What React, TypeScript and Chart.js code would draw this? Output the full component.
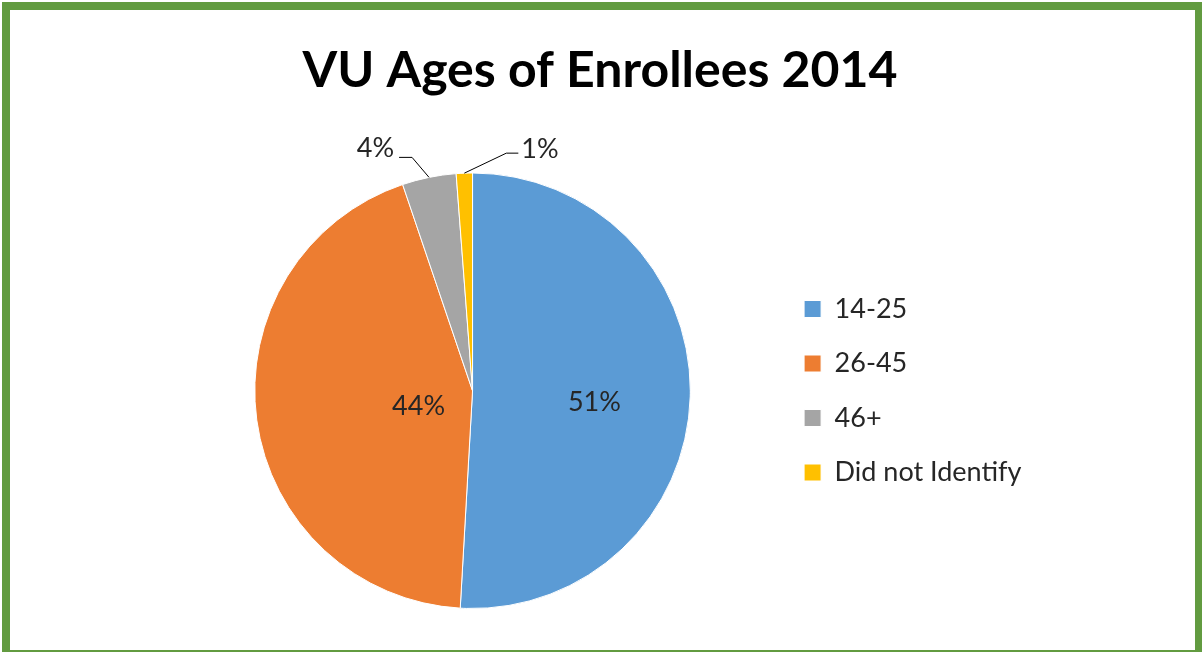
import { useEffect, useRef } from "react";
import { Chart, registerables } from "chart.js";

Chart.register(...registerables);

const titleText = "VU Ages of Enrollees 2014";
const categories = ["14-25", "26-45", "46+", "Did not Identify"];
const shares = [50.9, 43.9, 4.0, 1.2];
const sliceColors = ["#5B9BD5", "#ED7D31", "#A5A5A5", "#FFC000"];

const FONT = "Lato, 'Open Sans', sans-serif";
const TEXT_COLOR = "#262626";

const sliceLabelPlugin = {
  id: "sliceLabels",
  afterDatasetsDraw(chart: any) {
    const ctx = chart.ctx as CanvasRenderingContext2D;
    const meta = chart.getDatasetMeta(0);
    const data = chart.data.datasets[0].data as number[];
    const total = data.reduce((a, b) => a + b, 0);
    ctx.save();
    ctx.font = `27px ${FONT}`;
    ctx.fillStyle = TEXT_COLOR;
    ctx.strokeStyle = "#000000";
    ctx.lineWidth = 1;
    ctx.textBaseline = "middle";
    meta.data.forEach((arc: any, i: number) => {
      const { x, y, startAngle, endAngle, outerRadius } = arc.getProps(
        ["x", "y", "startAngle", "endAngle", "outerRadius"],
        true
      );
      const mid = (startAngle + endAngle) / 2;
      const frac = data[i] / total;
      const text = Math.round(frac * 100) + "%";
      if (frac > 0.1) {
        const f = i === 0 ? 0.56 : 0.25;
        ctx.textAlign = "center";
        ctx.fillText(
          text,
          x + Math.cos(mid) * outerRadius * f,
          y + Math.sin(mid) * outerRadius * f + 8
        );
      } else {
        const px = x + Math.cos(mid) * outerRadius;
        const py = y + Math.sin(mid) * outerRadius;
        const toLeft = i === 2;
        const ex = px + (toLeft ? -17 : 42);
        const ey = py - 20;
        const hx = ex + (toLeft ? -13 : 12);
        ctx.beginPath();
        ctx.moveTo(px, py);
        ctx.lineTo(ex, ey);
        ctx.lineTo(hx, ey);
        ctx.stroke();
        ctx.textAlign = toLeft ? "right" : "left";
        ctx.fillText(text, hx + (toLeft ? -5 : 3), ey - (toLeft ? 9 : 4));
      }
    });
    ctx.restore();
  },
};

export default function App() {
  const canvasRef = useRef<HTMLCanvasElement | null>(null);

  useEffect(() => {
    if (!canvasRef.current) return;
    const chart = new Chart(canvasRef.current, {
      type: "pie",
      data: {
        labels: categories,
        datasets: [
          {
            data: shares,
            backgroundColor: sliceColors,
            borderColor: "#FFFFFF",
            borderWidth: 1,
          },
        ],
      },
      options: {
        animation: false,
        responsive: false,
        maintainAspectRatio: false,
        rotation: 0,
        layout: {
          padding: { left: 168.5, right: 170.5, top: 0, bottom: 43 },
        },
        plugins: {
          title: {
            display: true,
            text: titleText,
            color: "#000000",
            font: { family: FONT, size: 50, weight: "bold" },
            padding: { top: 40.5, bottom: 72 },
          },
          legend: {
            display: true,
            position: "right",
            fullSize: false,
            labels: {
              boxWidth: 17,
              boxHeight: 17,
              padding: 27.5,
              color: TEXT_COLOR,
              font: { family: FONT, size: 27 },
            },
          },
          tooltip: { enabled: false },
        },
      },
      plugins: [sliceLabelPlugin],
    });
    return () => chart.destroy();
  }, []);

  return (
    <div
      style={{
        position: "fixed",
        left: 0,
        top: 0,
        width: 1202,
        height: 652,
        overflow: "hidden",
        background: "#FFFFFF",
      }}
    >
      <div
        style={{
          position: "absolute",
          left: 2,
          top: 2,
          width: 1200,
          height: 656,
          boxSizing: "border-box",
          borderStyle: "solid",
          borderColor: "#629B40",
          borderWidth: "8px 7px 8px 8px",
        }}
      />
      <canvas
        ref={canvasRef}
        width={1202}
        height={652}
        style={{ position: "absolute", left: 0, top: 0, width: 1202, height: 652 }}
      />
    </div>
  );
}
